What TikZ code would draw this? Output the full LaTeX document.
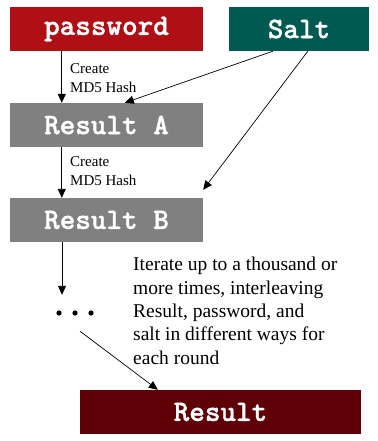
\documentclass[tikz,border=0pt]{standalone}
\usepackage{fontspec}
\setmainfont{Liberation Serif}
\newfontfamily\codefont{lmmonolt10-bold}[Extension=.otf, FakeBold=1.2]
\usetikzlibrary{positioning, calc, arrows.meta}
\definecolor{pwdred}{HTML}{AE1016}
\definecolor{saltgreen}{HTML}{005A52}
\definecolor{resgray}{HTML}{808080}
\definecolor{finalred}{HTML}{5E0006}
\tikzstyle{flow}=[draw=black, line width=0.9pt, -{Triangle[length=9pt, width=8pt]}]
\tikzstyle{thinflow}=[draw=black, line width=0.7pt, -{Triangle[length=9pt, width=8pt]}]
\tikzstyle{block}=[rectangle, inner sep=0pt, minimum height=44pt, text=white, font=\codefont\fontsize{29.7}{29.7}\selectfont]
\tikzstyle{note}=[inner sep=0pt, align=left, anchor=north west]

\begin{document}
\begin{tikzpicture}[x=1pt, y=-1pt]
        \useasboundingbox (0,0) rectangle (377,441);
        % Draw the blocks
        \node[block, fill=pwdred, minimum width=193pt](password) at (106.5,29){password};
        \node[block, fill=saltgreen, minimum width=140pt](salt) at (299,29){Salt};
        \node[block, fill=resgray, minimum width=193pt](result a) at (106.5,125){Result A};
        \node[block, fill=resgray, minimum width=193pt](result b) at (106.5,220){Result B};
        \node[minimum width=40pt, minimum height=36pt, inner sep=0pt](dots) at (75,313){};
        \node[block, fill=finalred, minimum width=281pt](result) at (220.5,412){Result};

        % hashing steps
        \draw[flow] ([xshift=52pt]password.south west) -- ([xshift=52pt]result a.north west);
        \node[note, font=\fontsize{15}{19}\selectfont] at (70,63) {Create\\MD5 Hash};
        \draw[flow] ([xshift=52pt]result a.south west) -- ([xshift=52pt]result b.north west);
        \node[note, font=\fontsize{15}{19}\selectfont] at (70,156) {Create\\MD5 Hash};

        % salt goes into both rounds
        \draw[thinflow] ([xshift=44pt]salt.south west) -- ([xshift=115pt]result a.north west);
        \draw[thinflow] ([xshift=79pt]salt.south west) -- ([yshift=8pt]result b.north east);

        % further rounds
        \draw[flow] ([xshift=-13pt]dots.north |- result b.south) -- ([xshift=-13pt]dots.north);
        \foreach \dx in {-16, 0, 16} {
            \fill ([xshift=\dx pt]dots.center) circle (2.6pt);
        }
        \draw[thinflow] ([xshift=5pt]dots.south) -- ([xshift=78pt]result.north west);
        \node[note, font=\fontsize{19.5}{23.4}\selectfont] at (133,257)
            {Iterate up to a thousand or\\more times, interleaving\\Result, password, and\\salt in different ways for\\each round};

    \end{tikzpicture}
\end{document}
